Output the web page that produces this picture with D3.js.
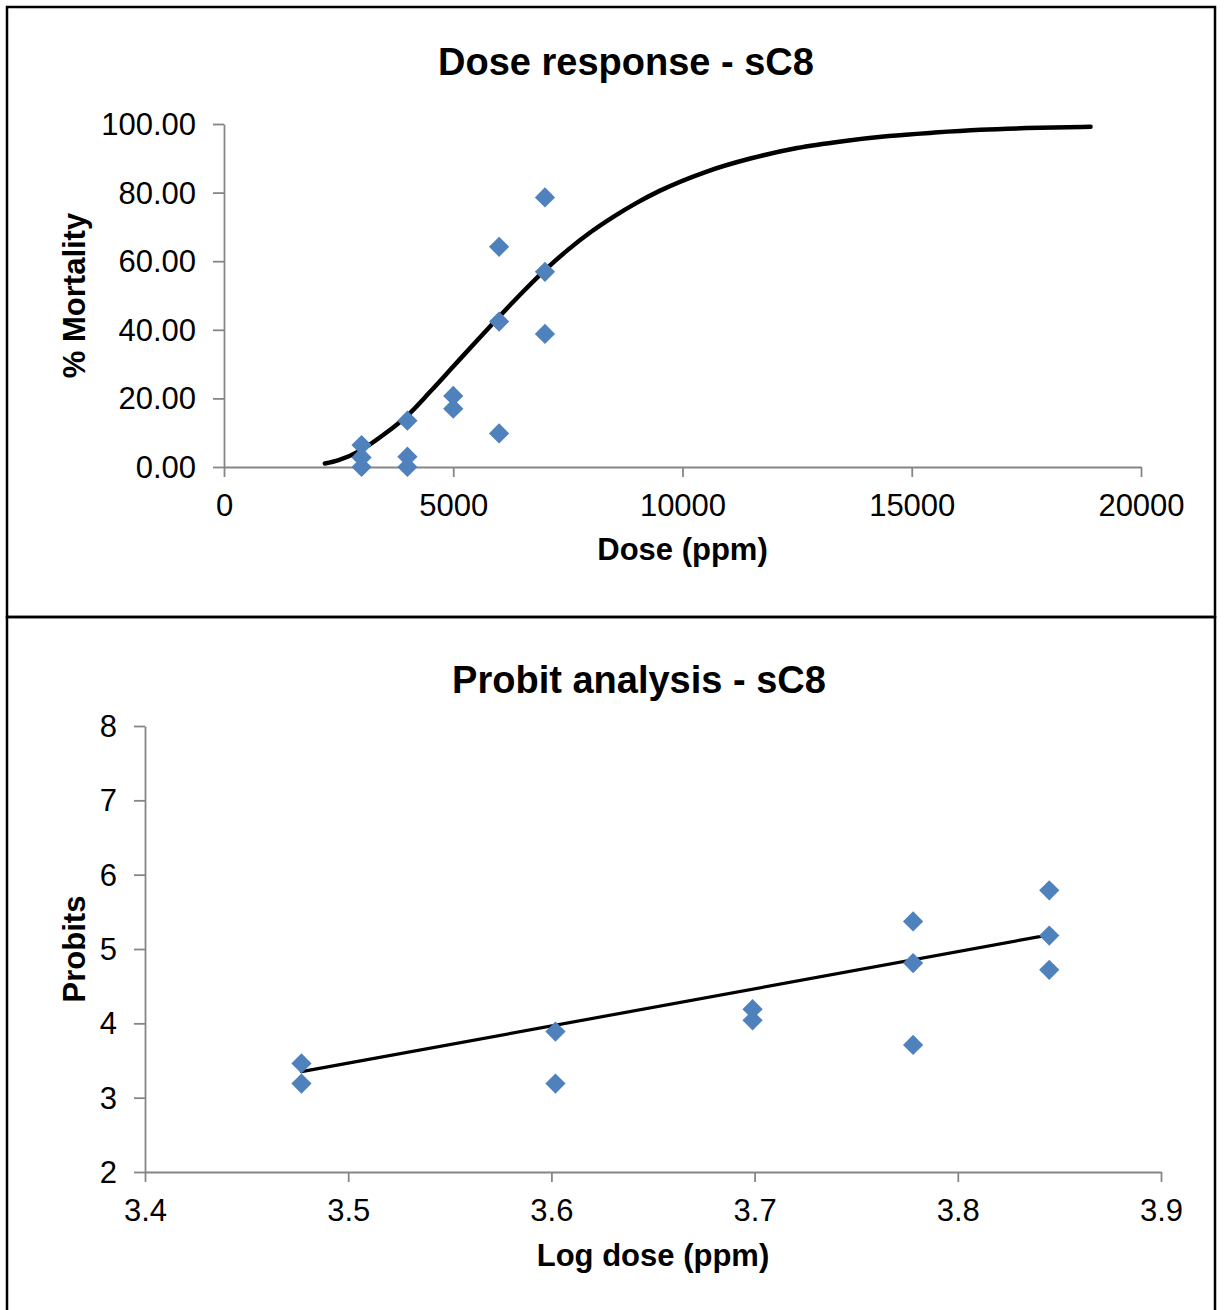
<!DOCTYPE html>
<html>
<head>
<meta charset="utf-8">
<script src="https://cdn.jsdelivr.net/npm/d3@7"></script>
<style>
  body { margin: 0; background: #fff; }
  svg text { font-family: "Liberation Sans", Arial, sans-serif; fill: #000; }
</style>
</head>
<body>
<div id="chart"></div>
<script>
// Observed mortality per dose (top chart)
const doses = [3000, 3000, 3000, 4000, 4000, 4000, 5000, 5000, 6000, 6000, 6000, 7000, 7000, 7000];
const mortality = [6.4, 2.8, 0.0, 13.5, 3.0, 0.0, 20.7, 17.0, 64.2, 42.4, 9.8, 78.6, 56.9, 38.8];

// Fitted dose response curve
const curveDoses = [2200, 2500, 3000, 3500, 4000, 4500, 5000, 5500, 6000, 6500, 7000, 7500, 8000,
                    8500, 9000, 9500, 10500, 11500, 12500, 13500, 14500, 15500, 16500, 17500, 18900];
const curveMortality = [1.0, 2.0, 5.0, 9.6, 15.0, 22.0, 29.3, 36.6, 43.8, 50.8, 57.4, 63.3, 68.5,
                        73.0, 77.0, 80.5, 86.0, 90.0, 93.0, 95.0, 96.5, 97.5, 98.3, 98.8, 99.2];

// Probit analysis (bottom chart)
const logDoses = [3.477, 3.477, 3.602, 3.602, 3.699, 3.699, 3.778, 3.778, 3.778, 3.845, 3.845, 3.845];
const probits = [3.46, 3.19, 3.89, 3.19, 4.19, 4.04, 5.37, 4.81, 3.71, 5.79, 5.18, 4.72];
const fitLogDoses = [3.477, 3.845];
const fitProbits = [3.35, 5.19];

// Tick values
const doseTicks = [0, 5000, 10000, 15000, 20000];
const mortalityTicks = [0, 20, 40, 60, 80, 100];
const logDoseTicks = [3.4, 3.5, 3.6, 3.7, 3.8, 3.9];
const probitTicks = [2, 3, 4, 5, 6, 7, 8];

const AXIS_COLOR = '#868686';
const MARKER_COLOR = '#4F81BD';
const TICK_FONT = 31;

const svg = d3.select('#chart').append('svg')
  .attr('width', 1224)
  .attr('height', 1310);

// Frames around the two chart objects
svg.append('rect')
  .attr('x', 7).attr('y', 7).attr('width', 1208).attr('height', 610)
  .attr('fill', 'none').attr('stroke', '#000').attr('stroke-width', 2.5);
svg.append('rect')
  .attr('x', 7).attr('y', 617).attr('width', 1208).attr('height', 700)
  .attr('fill', 'none').attr('stroke', '#000').attr('stroke-width', 2.5);


function draw_scatter( s ){
  const x = d3.scaleLinear().domain( s.x_domain ).range( [s.left, s.right] );
  const y = d3.scaleLinear().domain( s.y_domain ).range( [s.bottom, s.top] );
  const g = svg.append( 'g' );

  // x axis
  const xa = g.append( 'g' )
    .attr( 'transform', 'translate(0,' + s.bottom + ')' )
    .call( d3.axisBottom( x ).tickValues( s.x_ticks ).tickFormat( d3.format( s.x_fmt ) ).tickSize( 10 ).tickSizeOuter( 0 ).tickPadding( 17 ) );
  // y axis
  const ya = g.append( 'g' )
    .attr( 'transform', 'translate(' + s.left + ',0)' )
    .call( d3.axisLeft( y ).tickValues( s.y_ticks ).tickFormat( d3.format( s.y_fmt ) ).tickSize( 11 ).tickSizeOuter( 0 ).tickPadding( 17 ) );

  [xa, ya].forEach( function( a ){
    a.select( '.domain' ).attr( 'stroke', AXIS_COLOR ).attr( 'stroke-width', 1.8 );
    a.selectAll( '.tick line' ).attr( 'stroke', AXIS_COLOR ).attr( 'stroke-width', 1.8 );
    a.selectAll( '.tick text' ).attr( 'font-size', TICK_FONT ).attr( 'fill', '#000' );
  } );
  ya.selectAll( '.tick text' ).attr( 'dy', '0.34em' );
  xa.selectAll( '.tick text' ).attr( 'dy', '0.71em' );

  // fitted line
  const pts = s.line_x.map( function( v, i ){ return [ x( v ), y( s.line_y[i] ) ] } );
  g.append( 'path' )
    .attr( 'd', d3.line().curve( s.smooth ? d3.curveMonotoneX : d3.curveLinear )( pts ) )
    .attr( 'fill', 'none' )
    .attr( 'stroke', '#000' )
    .attr( 'stroke-width', s.line_width )
    .attr( 'stroke-linecap', 'round' );

  // diamond markers
  const diamond = d3.symbol().type( d3.symbolSquare ).size( 205 );
  g.selectAll( 'path.pt' )
    .data( s.pts_x.map( function( v, i ){ return [ v, s.pts_y[i] ] } ) )
    .enter().append( 'path' )
      .attr( 'class', 'pt' )
      .attr( 'd', diamond )
      .attr( 'transform', function( d ){ return 'translate(' + x( d[0] ) + ',' + y( d[1] ) + ') rotate(45)' } )
      .attr( 'fill', MARKER_COLOR );

  // titles
  g.append( 'text' )
    .attr( 'x', s.title_x ).attr( 'y', s.title_y )
    .attr( 'text-anchor', 'middle' )
    .attr( 'font-size', 38 ).attr( 'font-weight', 'bold' )
    .text( s.title );
  g.append( 'text' )
    .attr( 'x', ( s.left + s.right ) / 2 ).attr( 'y', s.x_title_y )
    .attr( 'text-anchor', 'middle' )
    .attr( 'font-size', 31 ).attr( 'font-weight', 'bold' )
    .text( s.x_title );
  g.append( 'text' )
    .attr( 'transform', 'translate(85,' + ( s.top + s.bottom ) / 2 + ') rotate(-90)' )
    .attr( 'text-anchor', 'middle' )
    .attr( 'font-size', 31 ).attr( 'font-weight', 'bold' )
    .text( s.y_title );
}


draw_scatter( {
  left: 224, right: 1141, top: 124, bottom: 467,
  x_domain: [0, 20000], y_domain: [0, 100],
  x_ticks: doseTicks, y_ticks: mortalityTicks, x_fmt: 'd', y_fmt: '.2f',
  pts_x: doses, pts_y: mortality,
  line_x: curveDoses, line_y: curveMortality, smooth: true, line_width: 4.5,
  title: 'Dose response - sC8', title_x: 626, title_y: 75,
  x_title: 'Dose (ppm)', x_title_y: 560,
  y_title: '% Mortality'
} );

draw_scatter( {
  left: 145, right: 1161, top: 726, bottom: 1172,
  x_domain: [3.4, 3.9], y_domain: [2, 8],
  x_ticks: logDoseTicks, y_ticks: probitTicks, x_fmt: '.1f', y_fmt: 'd',
  pts_x: logDoses, pts_y: probits,
  line_x: fitLogDoses, line_y: fitProbits, smooth: false, line_width: 3.2,
  title: 'Probit analysis - sC8', title_x: 639, title_y: 693,
  x_title: 'Log dose (ppm)', x_title_y: 1266,
  y_title: 'Probits'
} );
</script>
</body>
</html>
